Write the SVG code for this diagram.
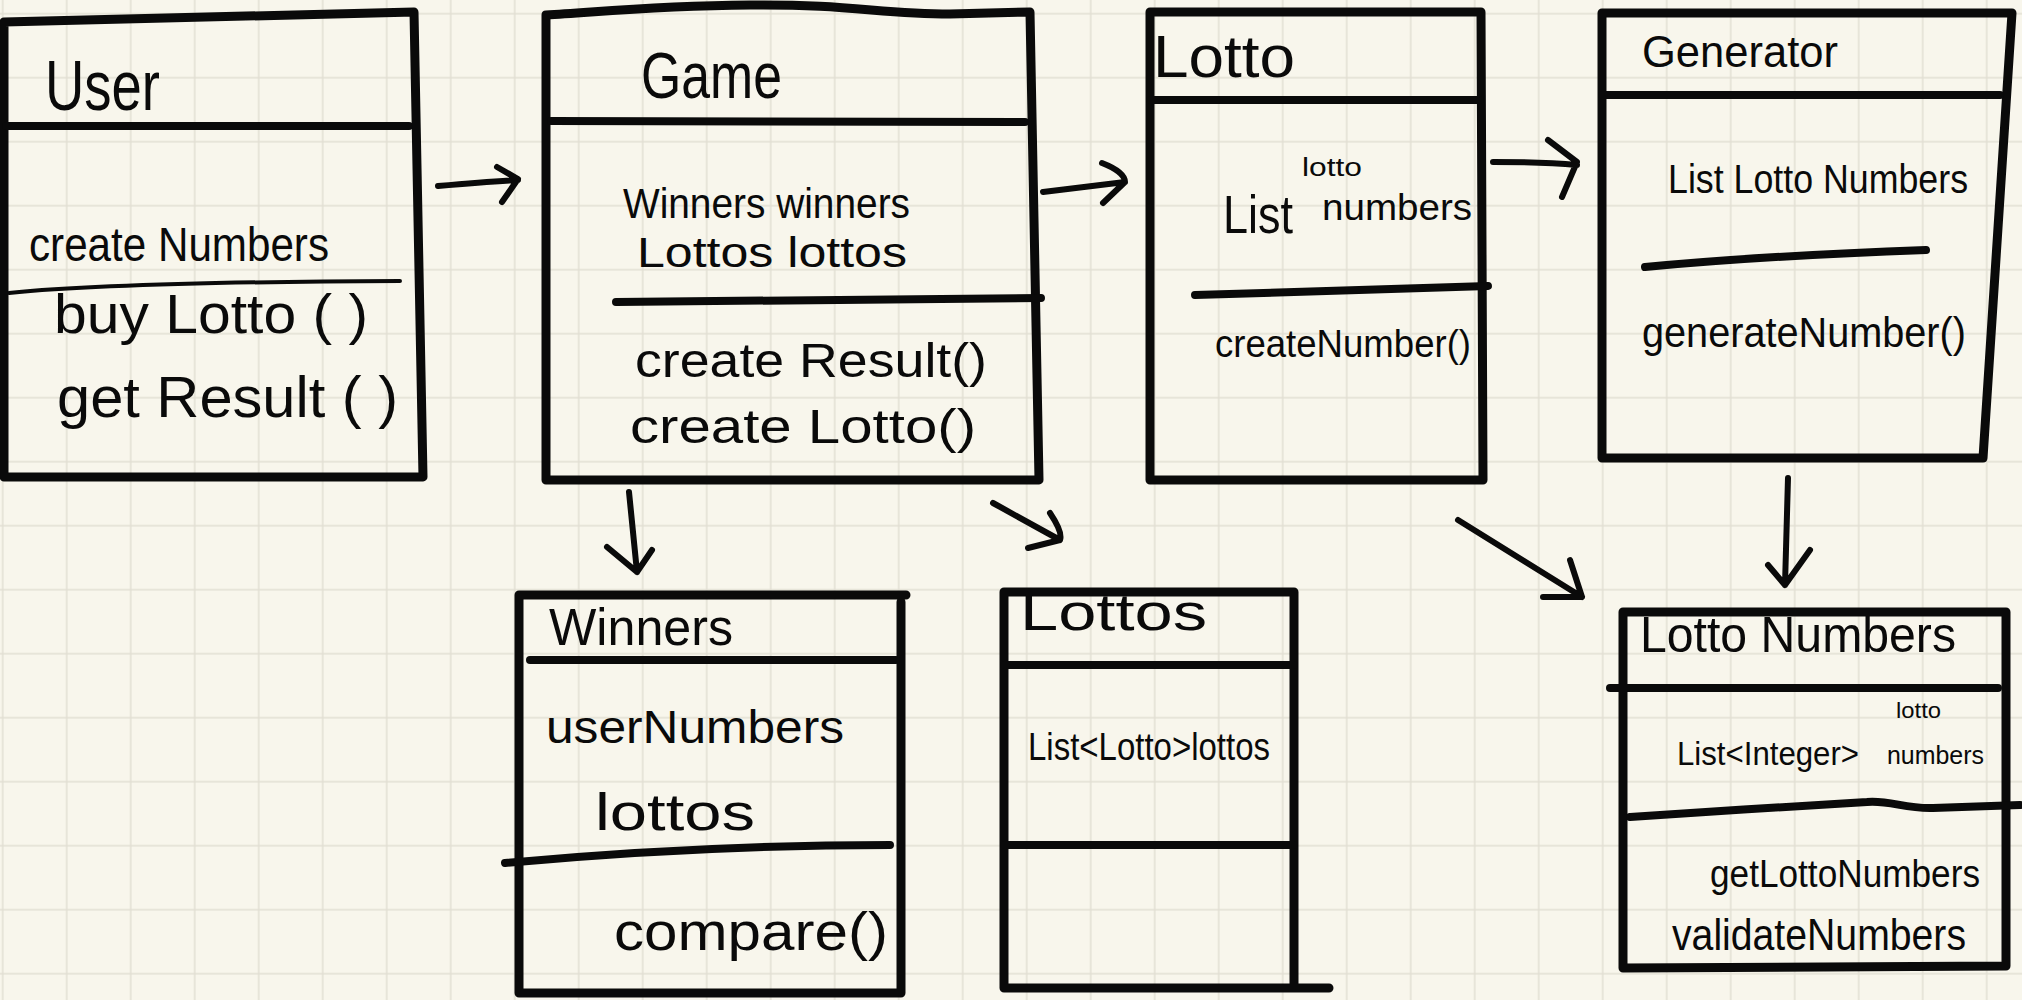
<svg xmlns="http://www.w3.org/2000/svg" width="2022" height="1000" viewBox="0 0 2022 1000">
<defs>
<pattern id="grid" x="-29.3" y="-18.3" width="64" height="64" patternUnits="userSpaceOnUse">
<path d="M0,32 H64 M32,0 V64" stroke="#e2dfd3" stroke-width="1.5" fill="none"/>
</pattern>
<style>
.box{fill:none;stroke:#0a0a0a;stroke-width:9;stroke-linejoin:round;stroke-linecap:round}
.sep{fill:none;stroke:#0a0a0a;stroke-width:8;stroke-linecap:round}
.thin{fill:none;stroke:#0a0a0a;stroke-width:4;stroke-linecap:round}
.arrow{fill:none;stroke:#0a0a0a;stroke-width:6;stroke-linecap:round;stroke-linejoin:round}
text{font-family:"Liberation Sans","DejaVu Sans",sans-serif;fill:#0a0a0a}
</style>
</defs>
<rect x="0" y="0" width="2022" height="1000" fill="#f8f6ec"/>
<rect x="0" y="0" width="2022" height="1000" fill="url(#grid)"/>

<g id="user">
<path class="box" d="M4,22 L414,12 L423,477 L4,477 Z"/>
<path class="sep" d="M6,126 L409,126"/>
<path class="thin" d="M9,293 Q120,282 400,281"/>
<text x="45" y="110" font-size="70" textLength="115" lengthAdjust="spacingAndGlyphs">User</text>
<text x="29" y="261" font-size="48" textLength="300" lengthAdjust="spacingAndGlyphs">create Numbers</text>
<text x="54" y="333" font-size="56" textLength="314" lengthAdjust="spacingAndGlyphs">buy Lotto ( )</text>
<text x="57" y="417" font-size="58" textLength="341" lengthAdjust="spacingAndGlyphs">get Result ( )</text>
</g>

<g id="game">
<path class="box" d="M546,15 C600,12 650,6 750,5 C850,4 880,14 950,14 L1030,12 L1039,480 L546,480 Z"/>
<path class="sep" d="M551,121 L1025,122"/>
<path class="sep" d="M616,302 L1041,298" stroke-width="6"/>
<text x="641" y="98" font-size="64" textLength="141" lengthAdjust="spacingAndGlyphs">Game</text>
<text x="623" y="218" font-size="42" textLength="287" lengthAdjust="spacingAndGlyphs">Winners winners</text>
<text x="637" y="267" font-size="42" textLength="270" lengthAdjust="spacingAndGlyphs">Lottos lottos</text>
<text x="635" y="377" font-size="48" textLength="352" lengthAdjust="spacingAndGlyphs">create Result()</text>
<text x="630" y="443" font-size="48" textLength="346" lengthAdjust="spacingAndGlyphs">create Lotto()</text>
</g>

<g id="lotto">
<path class="box" d="M1150,12 L1481,12 L1483,480 L1150,480 Z"/>
<path class="sep" d="M1150,100 L1480,100"/>
<path class="sep" d="M1195,295 Q1300,292 1488,286" stroke-width="6"/>
<text x="1153" y="77" font-size="60" textLength="142" lengthAdjust="spacingAndGlyphs">Lotto</text>
<text x="1223" y="233" font-size="54" textLength="70" lengthAdjust="spacingAndGlyphs">List</text>
<text x="1302" y="176" font-size="26" textLength="60" lengthAdjust="spacingAndGlyphs">lotto</text>
<text x="1322" y="220" font-size="36" textLength="150" lengthAdjust="spacingAndGlyphs">numbers</text>
<text x="1215" y="357" font-size="38" textLength="256" lengthAdjust="spacingAndGlyphs">createNumber()</text>
</g>

<g id="generator">
<path class="box" d="M1602,13 L2012,13 L1983,458 L1602,458 Z"/>
<path class="sep" d="M1602,95 L2000,95"/>
<path class="sep" d="M1645,267 Q1760,256 1926,250" stroke-width="6"/>
<text x="1642" y="67" font-size="44" textLength="196" lengthAdjust="spacingAndGlyphs">Generator</text>
<text x="1668" y="193" font-size="40" textLength="300" lengthAdjust="spacingAndGlyphs">List Lotto Numbers</text>
<text x="1642" y="347" font-size="42" textLength="324" lengthAdjust="spacingAndGlyphs">generateNumber()</text>
</g>

<g id="winners">
<path class="box" d="M519,595 L906,595 M901,602 L901,993 L519,993 L519,595"/>
<path class="sep" d="M530,660 L896,660"/>
<path class="sep" d="M505,863 Q700,845 890,845" stroke-width="10"/>
<text x="549" y="645" font-size="52" textLength="184" lengthAdjust="spacingAndGlyphs">Winners</text>
<text x="546" y="743" font-size="46" textLength="298" lengthAdjust="spacingAndGlyphs">userNumbers</text>
<text x="595" y="830" font-size="52" textLength="160" lengthAdjust="spacingAndGlyphs">lottos</text>
<text x="614" y="950" font-size="54" textLength="274" lengthAdjust="spacingAndGlyphs">compare()</text>
</g>

<g id="lottos">
<path class="box" d="M1004,592 L1294,592 L1294,988 M1329,988 L1004,988 L1004,592"/>
<path class="sep" d="M1004,665 L1294,665"/>
<path class="sep" d="M1004,845 L1294,845"/>
<text x="1020" y="630" font-size="52" textLength="187" lengthAdjust="spacingAndGlyphs">Lottos</text>
<text x="1028" y="760" font-size="38" textLength="242" lengthAdjust="spacingAndGlyphs">List&lt;Lotto&gt;lottos</text>
</g>

<g id="lottonumbers">
<path class="box" d="M1623,612 L2006,612 L2006,966 L1623,968 Z"/>
<path class="sep" d="M1610,688 L1998,688"/>
<path class="sep" d="M1630,817 C1700,812 1800,806 1867,802 C1890,800 1905,809 1933,808 L2020,805" stroke-width="6"/>
<text x="1640" y="652" font-size="50" textLength="316" lengthAdjust="spacingAndGlyphs">Lotto Numbers</text>
<text x="1677" y="765" font-size="34" textLength="182" lengthAdjust="spacingAndGlyphs">List&lt;Integer&gt;</text>
<text x="1896" y="718" font-size="22" textLength="45" lengthAdjust="spacingAndGlyphs">lotto</text>
<text x="1887" y="764" font-size="26" textLength="97" lengthAdjust="spacingAndGlyphs">numbers</text>
<text x="1710" y="887" font-size="38" textLength="270" lengthAdjust="spacingAndGlyphs">getLottoNumbers</text>
<text x="1672" y="950" font-size="44" textLength="294" lengthAdjust="spacingAndGlyphs">validateNumbers</text>
</g>

<g id="connectors">
<path class="arrow" d="M438,186 C470,183 495,181 518,180 M497,167 L518,179 L502,202"/>
<path class="arrow" d="M1043,192 L1125,182 M1102,163 C1115,168 1125,175 1125,182 L1103,203"/>
<path class="arrow" d="M1493,162 C1530,162 1555,163 1577,165 M1548,140 L1577,162 L1562,197"/>
<path class="arrow" d="M629,492 L637,572 M607,547 L637,572 L652,550"/>
<path class="arrow" d="M993,503 L1060,540 M1050,513 C1058,525 1062,535 1060,540 L1028,548"/>
<path class="arrow" d="M1458,520 L1582,597 M1570,560 L1582,597 L1543,597" stroke-width="10"/>
<path class="arrow" d="M1788,478 L1785,585 M1768,565 L1785,585 L1810,550"/>
</g>
</svg>
